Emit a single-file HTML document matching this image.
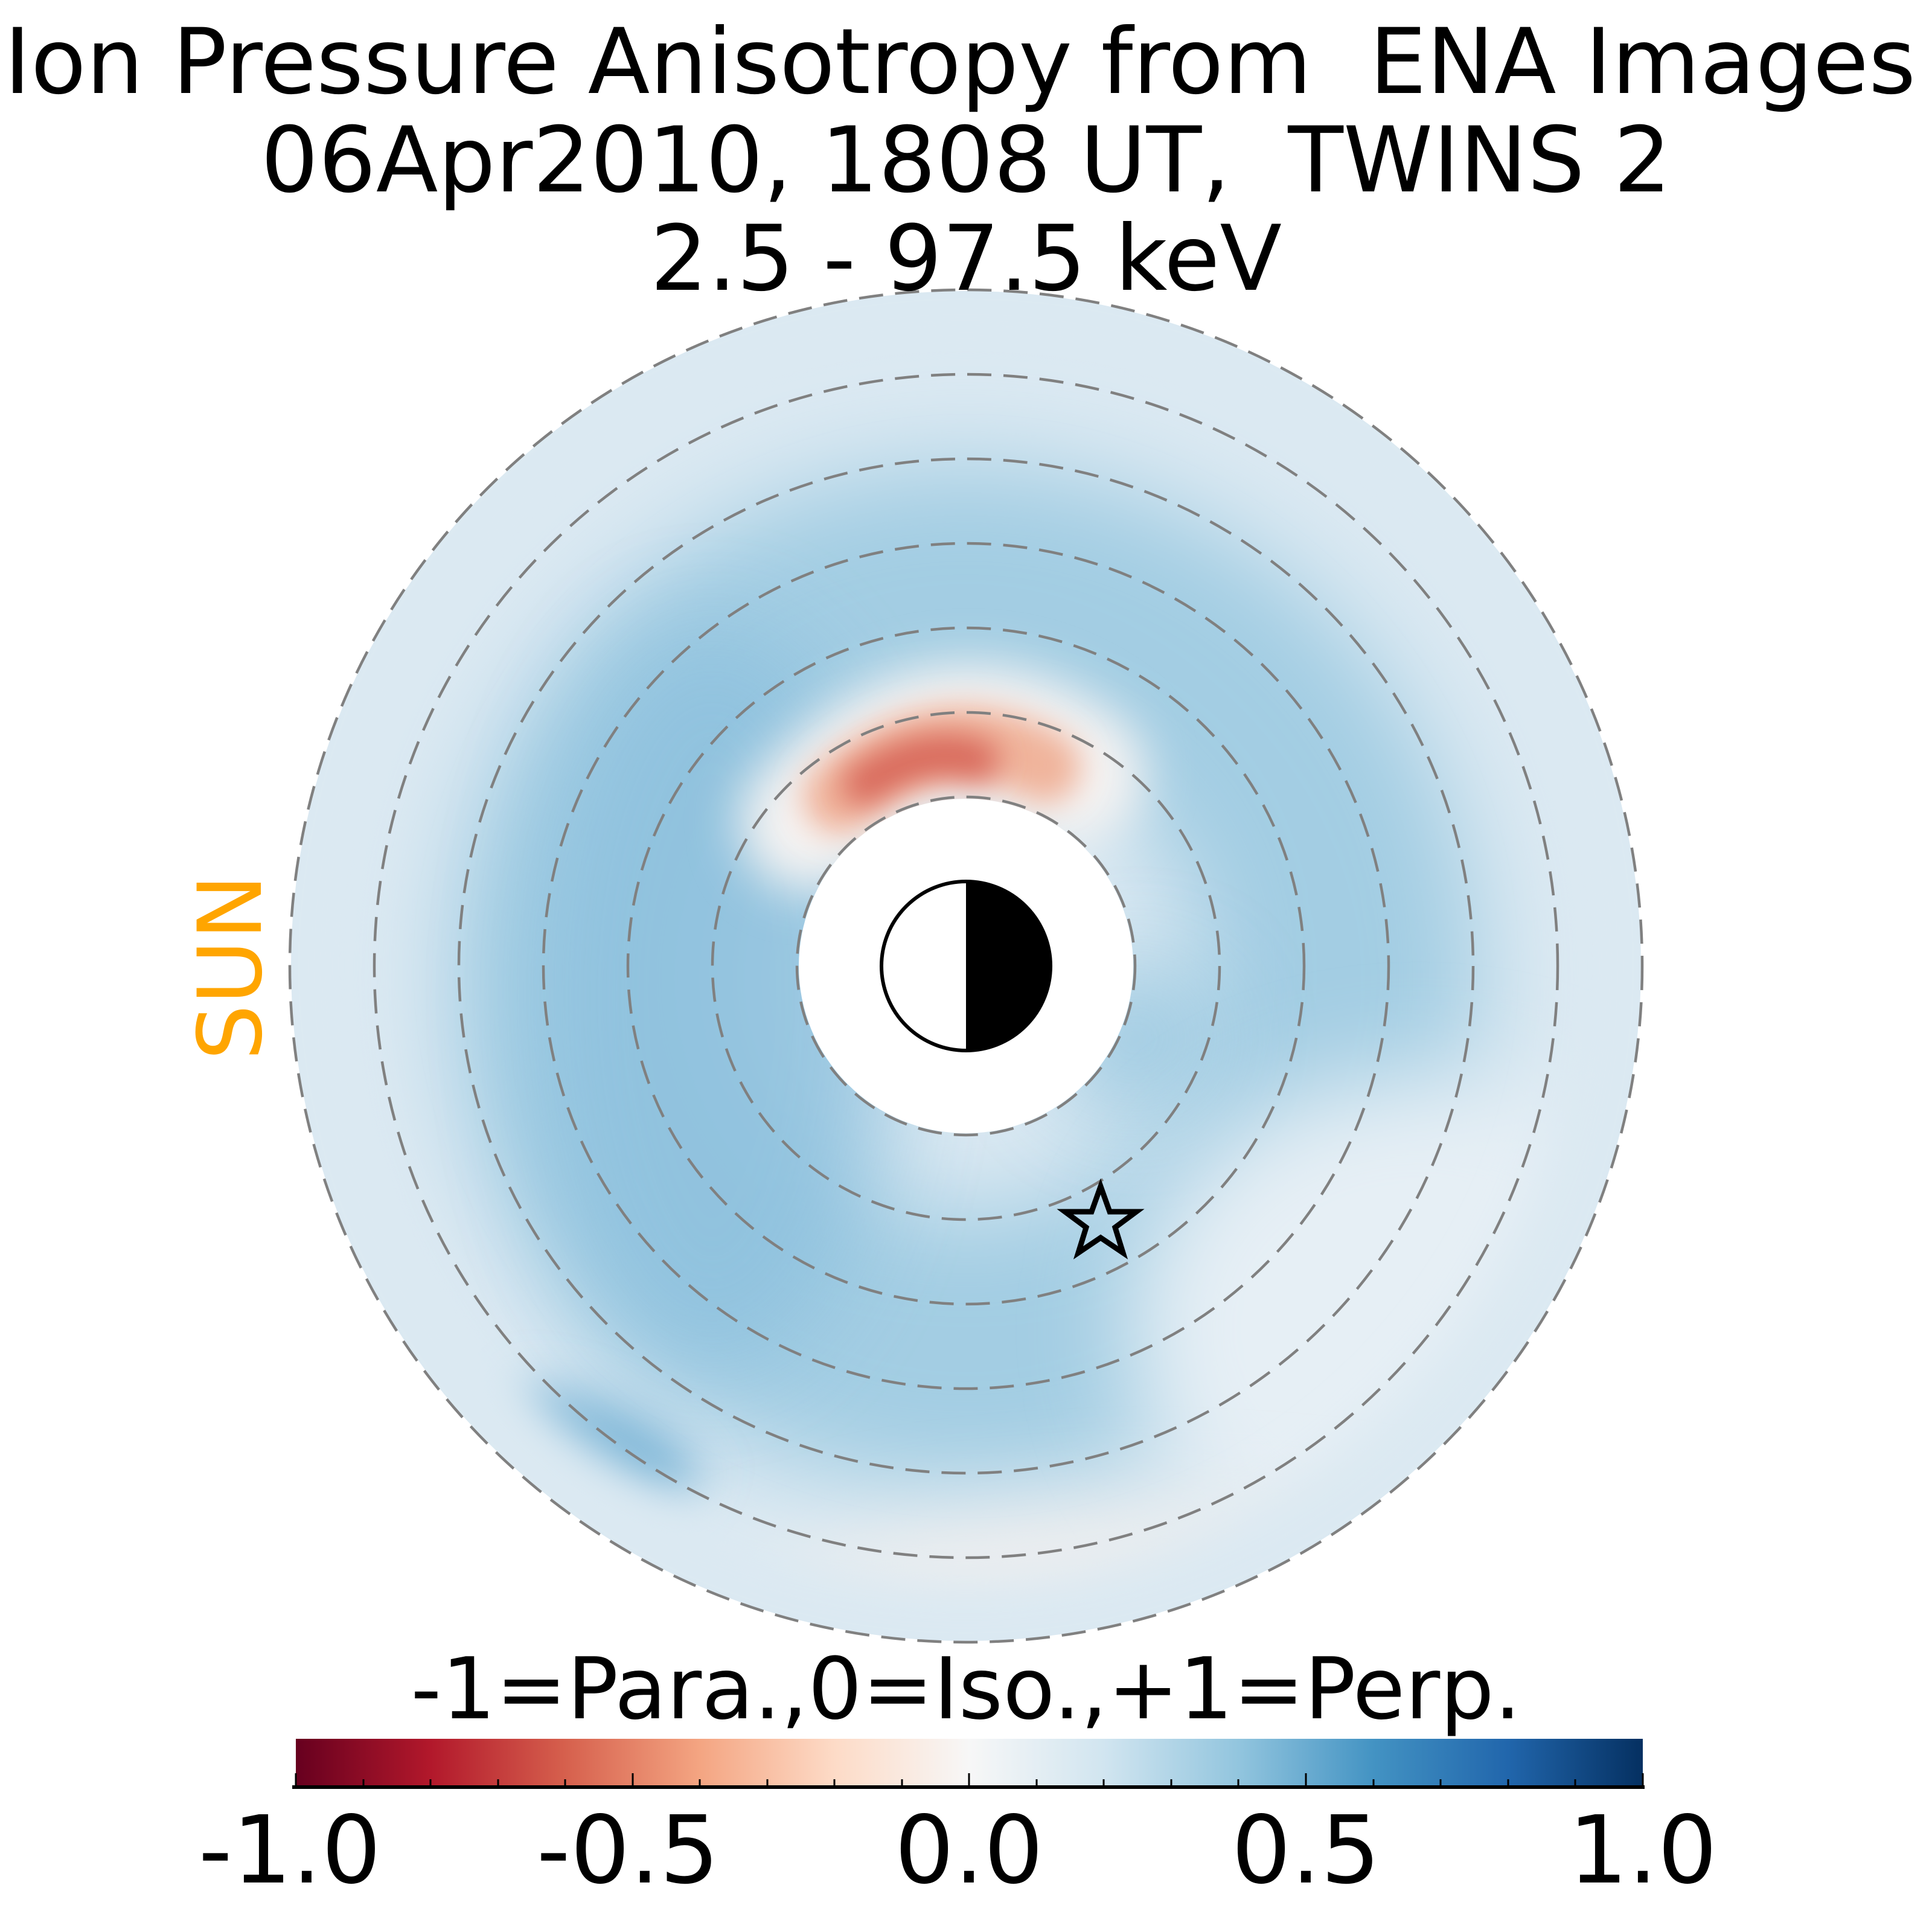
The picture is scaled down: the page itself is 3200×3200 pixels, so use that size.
<!DOCTYPE html>
<html><head><meta charset="utf-8"><style>
html,body{margin:0;padding:0;background:#fff;}
svg{display:block;}
text{white-space:pre;}
</style></head><body>
<svg width="3200" height="3200" viewBox="0 0 3200 3200" xmlns="http://www.w3.org/2000/svg">
<defs>
<mask id="ann">
<rect x="0" y="0" width="3200" height="3200" fill="black"/>
<circle cx="1600" cy="1600" r="1118" fill="white"/>
<circle cx="1600" cy="1600" r="277" fill="black"/>
</mask>
<filter id="b80" filterUnits="userSpaceOnUse" x="0" y="0" width="3200" height="3200"><feGaussianBlur stdDeviation="80"/></filter>
<filter id="b40" filterUnits="userSpaceOnUse" x="0" y="0" width="3200" height="3200"><feGaussianBlur stdDeviation="40"/></filter>
<filter id="b25" filterUnits="userSpaceOnUse" x="0" y="0" width="3200" height="3200"><feGaussianBlur stdDeviation="25"/></filter>
<linearGradient id="cb" x1="0" x2="1" y1="0" y2="0">
<stop offset="0" stop-color="#67001f"/>
<stop offset="0.1" stop-color="#b2182b"/>
<stop offset="0.2" stop-color="#d6604d"/>
<stop offset="0.3" stop-color="#f4a582"/>
<stop offset="0.4" stop-color="#fddbc7"/>
<stop offset="0.5" stop-color="#f7f7f7"/>
<stop offset="0.6" stop-color="#d1e5f0"/>
<stop offset="0.7" stop-color="#92c5de"/>
<stop offset="0.8" stop-color="#4393c3"/>
<stop offset="0.9" stop-color="#2166ac"/>
<stop offset="1" stop-color="#053061"/>
</linearGradient>
</defs>

<g mask="url(#ann)">
<rect x="400" y="400" width="2400" height="2400" fill="#dbe9f2"/>
<circle cx="1600" cy="1620" r="620" fill="none" stroke="#a3cde3" stroke-width="460" filter="url(#b80)"/>
<ellipse cx="1180" cy="1650" rx="300" ry="620" fill="#8ec1de" filter="url(#b80)" opacity="0.85"/>
<ellipse cx="1000" cy="2390" rx="170" ry="60" transform="rotate(25 1000 2390)" fill="#72b0d4" filter="url(#b40)"/>
<ellipse cx="1880" cy="1720" rx="140" ry="120" fill="#8fc3de" filter="url(#b80)" opacity="0.8"/>
<ellipse cx="2350" cy="2200" rx="480" ry="420" fill="#e6eff5" filter="url(#b80)"/>
<ellipse cx="1900" cy="2700" rx="700" ry="180" fill="#f4f0ee" filter="url(#b80)"/>
<circle cx="1600" cy="1600" r="1120" fill="none" stroke="#dbe9f2" stroke-width="220" filter="url(#b40)"/>
<path d="M1340,1360 Q1560,1120 1780,1280" fill="none" stroke="#f5f3f2" stroke-width="230" stroke-linecap="round" filter="url(#b40)"/>
<path d="M1390,1320 Q1560,1170 1730,1270" fill="none" stroke="#f0b49b" stroke-width="120" stroke-linecap="round" filter="url(#b25)"/>
<path d="M1430,1300 Q1530,1230 1620,1260" fill="none" stroke="#d8685a" stroke-width="70" stroke-linecap="round" filter="url(#b25)"/>
</g>

<g fill="none" stroke="#808080" stroke-width="4.5" stroke-dasharray="40 20">
<circle cx="1600" cy="1600" r="280"/>
<circle cx="1600" cy="1600" r="420"/>
<circle cx="1600" cy="1600" r="560"/>
<circle cx="1600" cy="1600" r="700"/>
<circle cx="1600" cy="1600" r="840"/>
<circle cx="1600" cy="1600" r="980"/>
<circle cx="1600" cy="1600" r="1120"/>
</g>

<circle cx="1600" cy="1600" r="140" fill="#fff" stroke="#000" stroke-width="6"/>
<path d="M1600,1460 A140,140 0 0 1 1600,1740 Z" fill="#000"/>

<polygon points="1823,1965 1838,2007 1882,2007 1847,2033 1860,2075 1823,2050 1786,2075 1799,2033 1764,2007 1808,2007" fill="none" stroke="#000" stroke-width="9" stroke-linejoin="miter"/>

<g font-family="DejaVu Sans, Liberation Sans, sans-serif" font-size="150" text-anchor="middle" fill="#000">
<text x="1590" y="154">Ion Pressure Anisotropy from  ENA Images</text>
<text x="1600" y="317">06Apr2010, 1808 UT,  TWINS 2</text>
<text x="1600" y="480">2.5 - 97.5 keV</text>
<text x="1600" y="2846" font-size="141">-1=Para.,0=Iso.,+1=Perp.</text>
</g>
<text transform="translate(432,1602) rotate(-90)" font-family="DejaVu Sans, Liberation Sans, sans-serif" font-size="146" text-anchor="middle" fill="#ffa500">SUN</text>

<rect x="490" y="2880" width="2231" height="78" fill="url(#cb)"/>
<line x1="484" y1="2960" x2="2724" y2="2960" stroke="#000" stroke-width="6"/>
<g stroke="#000" stroke-width="3">
<line x1="490" y1="2958" x2="490" y2="2937"/><line x1="1048" y1="2958" x2="1048" y2="2937"/><line x1="1605" y1="2958" x2="1605" y2="2937"/><line x1="2163" y1="2958" x2="2163" y2="2937"/><line x1="2721" y1="2958" x2="2721" y2="2937"/>
<line x1="602" y1="2958" x2="602" y2="2947"/><line x1="713" y1="2958" x2="713" y2="2947"/><line x1="825" y1="2958" x2="825" y2="2947"/><line x1="936" y1="2958" x2="936" y2="2947"/>
<line x1="1159" y1="2958" x2="1159" y2="2947"/><line x1="1271" y1="2958" x2="1271" y2="2947"/><line x1="1382" y1="2958" x2="1382" y2="2947"/><line x1="1494" y1="2958" x2="1494" y2="2947"/>
<line x1="1717" y1="2958" x2="1717" y2="2947"/><line x1="1828" y1="2958" x2="1828" y2="2947"/><line x1="1940" y1="2958" x2="1940" y2="2947"/><line x1="2051" y1="2958" x2="2051" y2="2947"/>
<line x1="2275" y1="2958" x2="2275" y2="2947"/><line x1="2386" y1="2958" x2="2386" y2="2947"/><line x1="2498" y1="2958" x2="2498" y2="2947"/><line x1="2609" y1="2958" x2="2609" y2="2947"/>
</g>
<g font-family="DejaVu Sans, Liberation Sans, sans-serif" font-size="155" text-anchor="middle" fill="#000">
<text x="480" y="3118">-1.0</text>
<text x="1040" y="3118">-0.5</text>
<text x="1605" y="3118">0.0</text>
<text x="2163" y="3118">0.5</text>
<text x="2721" y="3118">1.0</text>
</g>
</svg>
</body></html>
